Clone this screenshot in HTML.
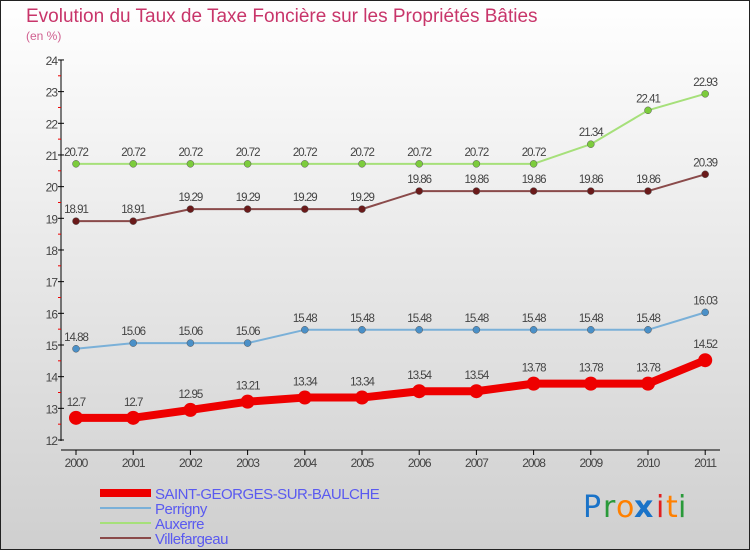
<!DOCTYPE html>
<html><head><meta charset="utf-8"><style>
body{margin:0}
#c{width:750px;height:550px;position:relative;font-family:"Liberation Sans",sans-serif;}
</style></head><body>
<div id="c">
<svg id="s" width="750" height="550" xmlns="http://www.w3.org/2000/svg">
<defs><linearGradient id="bg" x1="0" y1="0" x2="0" y2="1"><stop offset="0" stop-color="#ffffff"/><stop offset="1" stop-color="#cfcfcf"/></linearGradient></defs>
<rect x="0.5" y="0.5" width="749" height="549" fill="url(#bg)" stroke="#222"/>
<text x="26" y="22" font-size="19" fill="#c8356a">Evolution du Taux de Taxe Foncière sur les Propriétés Bâties</text>
<text x="26" y="40" font-size="12" fill="#d06090">(en %)</text>
<g id="axes"></g><g id="marks"></g><g id="legend"></g>
<g font-size="30" font-family="DejaVu Sans, sans-serif">
<text x="583" y="517" fill="#1a73c8">P</text><text x="603" y="517" fill="#2a9a3a">r</text><text x="616" y="517" fill="#ff8000">o</text><text x="634" y="517" fill="#1a73c8" font-weight="bold">x</text><text x="656" y="517" fill="#e02020">i</text><text x="666" y="517" fill="#ff8000">t</text><text x="678" y="517" fill="#2a9a3a">i</text>
</g>
</svg></div>
<script>
const years=["2000","2001","2002","2003","2004","2005","2006","2007","2008","2009","2010","2011"];
const yTicks=[12,13,14,15,16,17,18,19,20,21,22,23,24];
const stg=[12.7,12.7,12.95,13.21,13.34,13.34,13.54,13.54,13.78,13.78,13.78,14.52];
const perrigny=[14.88,15.06,15.06,15.06,15.48,15.48,15.48,15.48,15.48,15.48,15.48,16.03];
const auxerre=[20.72,20.72,20.72,20.72,20.72,20.72,20.72,20.72,20.72,21.34,22.41,22.93];
const villef=[18.91,18.91,19.29,19.29,19.29,19.29,19.86,19.86,19.86,19.86,19.86,20.39];
const NS="http://www.w3.org/2000/svg";
const X=i=>76+i*57.2, Y=v=>440-(v-12)*31.67;
function mk(t,a,p,txt){const e=document.createElementNS(NS,t);for(const k in a)e.setAttribute(k,a[k]);if(txt!==undefined)e.textContent=txt;p.appendChild(e);return e;}
const ax=document.getElementById('axes'),mg=document.getElementById('marks'),lg=document.getElementById('legend');
let e=mk('line',{x1:61,y1:60,x2:61,y2:441,stroke:'#000'},ax);

e=mk('line',{x1:61,y1:450,x2:720,y2:450,stroke:'#000'},ax);

yTicks.forEach((v,i)=>{mk('line',{x1:58,y1:Y(v),x2:64,y2:Y(v),stroke:'#000'},ax);
if(i<yTicks.length-1)mk('line',{x1:58,y1:Y(v+0.5),x2:61,y2:Y(v+0.5),stroke:'#e00'},ax);
e=mk('text',{x:57,y:Y(v)+5,'font-size':12,fill:'#444','text-anchor':'end','letter-spacing':'-1'},ax,String(v));
});
years.forEach((y,i)=>{mk('line',{x1:X(i),y1:450,x2:X(i),y2:455,stroke:'#000'},ax);
e=mk('text',{x:X(i),y:467,'font-size':12,fill:'#444','text-anchor':'middle','letter-spacing':'-1'},ax,y);
});
function series(d,col,dot,w,r,name){const g=mk('g',{},mg);
e=mk('polyline',{points:d.map((v,i)=>X(i)+','+Y(v)).join(' '),fill:'none',stroke:col,'stroke-width':w,'stroke-linejoin':'round'},g);

d.forEach((v,i)=>{e=mk('circle',{cx:X(i),cy:Y(v),r:r,fill:dot,stroke:w>3?'none':'#555','stroke-width':0.5},g);

e=mk('text',{x:X(i),y:Y(v)-(w>3?12:8),'font-size':11.5,fill:'#444','text-anchor':'middle','letter-spacing':'-1'},g,String(v));
});}
series(auxerre,'#a6e07a','#7ccc3c',2,3.5,'auxerre');
series(villef,'#8a4a4a','#6a1a1a',2,3.5,'villefargeau');
series(perrigny,'#7ab0d8','#4a90c8',2,3.5,'perrigny');
series(stg,'#ee0000','#ee0000',8,7,'saint-georges');
const leg=[["SAINT-GEORGES-SUR-BAULCHE","#ee0000",8],["Perrigny","#7ab0d8",2],["Auxerre","#a6e07a",2],["Villefargeau","#8a4a4a",2]];
leg.forEach((l,i)=>{const yy=493+i*15;const g=mk('g',{},lg);
mk('line',{x1:100,y1:yy,x2:151,y2:yy,stroke:l[1],'stroke-width':l[2]},g);
mk('text',{x:155,y:yy+6,'font-size':15,fill:'#5a5af0','letter-spacing':'-0.5'},g,l[0]);});
</script>
</body></html>
